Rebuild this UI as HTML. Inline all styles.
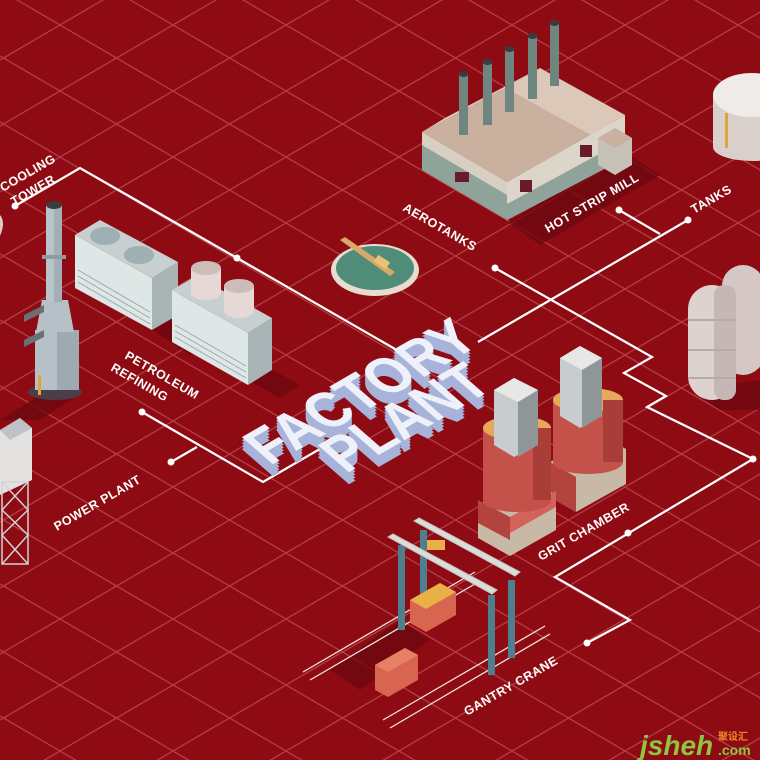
<!DOCTYPE html>
<html><head><meta charset="utf-8"><style>
html,body{margin:0;padding:0;background:#8f0b13;}
svg{display:block}
text{font-family:"Liberation Sans",sans-serif;font-weight:bold;}
</style></head><body>
<svg width="760" height="760" viewBox="0 0 760 760" xmlns="http://www.w3.org/2000/svg">
<defs>
<pattern id="g" patternUnits="userSpaceOnUse" x="60" y="25" width="113" height="66">
<path d="M0,0 L113,66 M0,66 L113,0" stroke="#b23e46" stroke-width="1.3" fill="none"/>
</pattern>
<g id="t1"><text font-size="58" textLength="245" lengthAdjust="spacingAndGlyphs">FACTORY</text></g>
<g id="t2"><text font-size="58" textLength="172" lengthAdjust="spacingAndGlyphs">PLANT</text></g>
</defs>
<rect width="760" height="760" fill="#8f0b13"/>
<rect width="760" height="760" fill="url(#g)"/>

<!-- shadows -->
<g fill="#6d0710" opacity="0.8">
<polygon points="508,222 625,152 660,175 540,245"/>
<polygon points="152,330 178,315 215,340 190,355"/>
<polygon points="248,380 270,368 300,385 280,398"/>
<polygon points="78,395 40,395 0,420 40,420"/>
<polygon points="690,390 760,380 760,410 720,410"/>
<polygon points="400,620 330,670 360,690 430,640"/>
</g>

<!-- connectors -->
<g stroke="#fff" stroke-width="2.2" fill="none" stroke-linejoin="miter">
<polyline points="15,206 80,168 237,258 395,349"/>
<polyline points="142,412 263,482 325,446"/>
<polyline points="171,462 197,447"/>
<polyline points="495,268 652,357 624,373 666,396 647,407 753,459"/>
<polyline points="753,459 555,577 630,620 587,643"/>
<polyline points="619,210 660,234"/>
<polyline points="688,220 478,342"/>
</g>
<g fill="#fff">
<circle cx="15" cy="206" r="3.5"/><circle cx="237" cy="258" r="3.5"/>
<circle cx="142" cy="412" r="3.5"/><circle cx="171" cy="462" r="3.5"/>
<circle cx="495" cy="268" r="3.5"/><circle cx="619" cy="210" r="3.5"/>
<circle cx="688" cy="220" r="3.5"/><circle cx="753" cy="459" r="3.5"/>
<circle cx="628" cy="533" r="3.5"/><circle cx="587" cy="643" r="3.5"/>
</g>

<!-- aerotank -->
<ellipse cx="375" cy="270" rx="44" ry="26" fill="#e7dccf"/>
<ellipse cx="375" cy="268" rx="39" ry="22" fill="#4f8d79"/>
<polygon points="340,240 345,237 395,272 390,276" fill="#d9a868"/>
<rect x="375" y="258" width="14" height="8" fill="#e9c27a" transform="rotate(33 382 262)"/>

<!-- hot strip mill -->
<polygon points="422,132 507,182 507,220 422,170" fill="#8fa39b"/>
<polygon points="422,132 507,182 507,195 422,145" fill="#d8cfc2"/>
<polygon points="507,182 625,115 625,158 507,220" fill="#dcd5ca"/>
<polygon points="507,204 625,140 625,158 507,220" fill="#8fa39b"/>
<polygon points="422,132 507,182 590,135 505,88" fill="#c9b09f"/>
<polygon points="505,88 590,135 625,115 540,68" fill="#dcc8b8"/>
<polygon points="422,132 505,88 540,68 445,118" fill="#e2d3c6"/>
<g fill="#6a1b2a"><rect x="520" y="180" width="12" height="12"/><rect x="580" y="145" width="12" height="12"/><rect x="455" y="172" width="14" height="10"/></g>
<polygon points="598,138 615,128 632,138 632,165 615,175 598,165" fill="#c6c2b8"/>
<polygon points="598,138 615,128 632,138 615,148" fill="#c9b09f"/>
<g fill="#6f8580">
<rect x="459" y="75" width="9" height="60"/><rect x="483" y="63" width="9" height="62"/>
<rect x="505" y="50" width="9" height="62"/><rect x="528" y="37" width="9" height="62"/>
<rect x="550" y="24" width="9" height="62"/>
</g>
<g fill="#3b3b40">
<ellipse cx="463.5" cy="74" rx="5" ry="3"/><ellipse cx="487.5" cy="62" rx="5" ry="3"/>
<ellipse cx="509.5" cy="49" rx="5" ry="3"/><ellipse cx="532.5" cy="36" rx="5" ry="3"/>
<ellipse cx="554.5" cy="23" rx="5" ry="3"/>
</g>

<!-- tank top right -->
<rect x="713" y="95" width="50" height="52" fill="#d9d0cc"/>
<ellipse cx="752" cy="147" rx="39" ry="14" fill="#d9d0cc"/>
<ellipse cx="752" cy="95" rx="39" ry="22" fill="#efebe8"/>
<rect x="725" y="113" width="3" height="35" fill="#e0a43a"/>

<!-- cooling units -->
<polygon points="75,235 152,278 152,330 75,288" fill="#dfe6e6"/>
<polygon points="152,278 178,262 178,315 152,330" fill="#a9b4b6"/>
<polygon points="75,235 100,220 178,262 152,278" fill="#c7cfd0"/>
<g stroke="#9aa7aa" stroke-width="1"><line x1="78" y1="270" x2="150" y2="312"/><line x1="78" y1="276" x2="150" y2="318"/><line x1="78" y1="282" x2="150" y2="324"/></g>
<ellipse cx="105" cy="236" rx="15" ry="9" fill="#9fb0b3"/><ellipse cx="139" cy="255" rx="15" ry="9" fill="#9fb0b3"/>
<polygon points="172,290 248,333 248,385 172,342" fill="#dfe6e6"/>
<polygon points="248,333 272,318 272,370 248,385" fill="#a9b4b6"/>
<polygon points="172,290 196,276 272,318 248,333" fill="#c7cfd0"/>
<g stroke="#9aa7aa" stroke-width="1"><line x1="175" y1="325" x2="246" y2="366"/><line x1="175" y1="331" x2="246" y2="372"/><line x1="175" y1="337" x2="246" y2="378"/></g>
<rect x="191" y="268" width="30" height="25" fill="#e6d8d4"/><ellipse cx="206" cy="293" rx="15" ry="7" fill="#e6d8d4"/><ellipse cx="206" cy="268" rx="15" ry="7" fill="#cdbdb9"/>
<rect x="224" y="286" width="30" height="25" fill="#e6d8d4"/><ellipse cx="239" cy="311" rx="15" ry="7" fill="#e6d8d4"/><ellipse cx="239" cy="286" rx="15" ry="7" fill="#cdbdb9"/>

<!-- chimney -->
<ellipse cx="55" cy="392" rx="27" ry="8" fill="#4a3f48"/>
<rect x="35" y="330" width="44" height="60" fill="#b6c1c7"/>
<rect x="57" y="330" width="22" height="60" fill="#9eaab1"/>
<polygon points="42,300 68,300 74,332 36,332" fill="#b6c1c7"/>
<rect x="46" y="205" width="16" height="97" fill="#b9c4ca"/>
<rect x="54" y="205" width="8" height="97" fill="#a2afb6"/>
<ellipse cx="54" cy="205" rx="8" ry="4" fill="#3b3b40"/>
<rect x="42" y="255" width="24" height="4" fill="#8f9ba2"/>
<polygon points="24,315 44,305 44,312 24,322" fill="#6b6f78"/>
<polygon points="24,340 44,330 44,337 24,347" fill="#6b6f78"/>
<rect x="38" y="375" width="3" height="20" fill="#e0a43a"/>

<!-- cooling tower partial -->
<path d="M0,215 Q6,222 0,236 Z" fill="#d9cfc7"/>

<!-- power plant partial -->
<polygon points="0,430 20,418 32,428 32,480 0,495" fill="#e3e2e0"/>
<polygon points="0,430 20,418 32,428 10,440" fill="#bfc2c4"/>
<g stroke="#cfd3d6" stroke-width="1.5" fill="none">
<rect x="2" y="482" width="26" height="82"/>
<path d="M2,482 L28,510 L2,535 L28,564 M28,482 L2,510 L28,535 L2,564"/>
</g>

<!-- gas tanks right -->
<rect x="722" y="265" width="42" height="110" rx="21" fill="#d5c8c4"/>
<rect x="688" y="285" width="48" height="115" rx="24" fill="#ddd2ce"/>
<rect x="714" y="285" width="22" height="115" rx="10" fill="#c5b8b4"/>
<g stroke="#b8aaa6" stroke-width="2"><line x1="688" y1="320" x2="736" y2="320"/><line x1="688" y1="350" x2="736" y2="350"/><line x1="688" y1="378" x2="736" y2="378"/></g>

<!-- grit chamber -->
<polygon points="550,462 600,434 626,449 626,484 576,512 550,497" fill="#c7b9a6"/>
<polygon points="550,462 576,477 576,512 550,497" fill="#b3443d"/>
<rect x="553" y="400" width="70" height="62" fill="#c4514a"/>
<ellipse cx="588" cy="462" rx="35" ry="12" fill="#c4514a"/>
<ellipse cx="588" cy="400" rx="35" ry="12" fill="#e6a85a"/>
<rect x="603" y="400" width="20" height="62" fill="#a93d37"/>
<polygon points="560,358 580,346 602,358 602,416 580,428 560,416" fill="#c8ccce"/>
<polygon points="560,358 580,346 602,358 582,370" fill="#e7e7e5"/>
<polygon points="582,370 602,358 602,416 582,428" fill="#8e9698"/>

<polygon points="478,505 526,478 556,495 556,530 510,556 478,538" fill="#c7b9a6"/>
<polygon points="478,500 510,517 510,540 478,523" fill="#b3443d"/>
<polygon points="510,517 556,491 556,507 510,533" fill="#d2625a"/>
<rect x="483" y="428" width="68" height="72" fill="#c4514a"/>
<ellipse cx="517" cy="500" rx="34" ry="12" fill="#c4514a"/>
<ellipse cx="517" cy="428" rx="34" ry="12" fill="#e6a85a"/>
<rect x="533" y="428" width="18" height="72" fill="#a93d37"/>
<polygon points="494,390 514,378 538,390 538,445 514,457 494,445" fill="#c8ccce"/>
<polygon points="494,390 514,378 538,390 518,402" fill="#e7e7e5"/>
<polygon points="518,402 538,390 538,445 518,457" fill="#8e9698"/>

<!-- gantry crane -->
<g stroke="#f0e6e0" stroke-width="1.3"><line x1="303" y1="672" x2="475" y2="572"/><line x1="310" y1="680" x2="480" y2="581"/><line x1="383" y1="720" x2="545" y2="626"/><line x1="390" y1="728" x2="550" y2="634"/></g>
<polygon points="375,665 405,648 418,655 418,680 388,697 375,690" fill="#d7654f"/>
<polygon points="375,665 405,648 418,655 388,672" fill="#e88066"/>
<g fill="#4d7f8e">
<rect x="398" y="545" width="7" height="85"/><rect x="420" y="530" width="7" height="85"/>
<rect x="488" y="595" width="7" height="80"/><rect x="508" y="580" width="7" height="78"/>
</g>
<polygon points="410,600 440,583 456,592 456,615 426,632 410,623" fill="#d7654f"/>
<polygon points="410,600 440,583 456,592 426,609" fill="#e8b045"/>
<polygon points="388,537 393,534 497,590 492,594" fill="#dcdcd8" stroke="#c0c4c4"/>
<polygon points="414,521 419,518 520,572 515,576" fill="#dcdcd8" stroke="#c0c4c4"/>
<rect x="427" y="540" width="18" height="10" fill="#e8b045"/>

<!-- labels -->
<g fill="#fff" font-size="12.5" letter-spacing="0.5">
<text transform="translate(3,192) rotate(-30)">COOLING</text>
<text transform="translate(14,206) rotate(-30)">TOWER</text>
<text transform="translate(548,233) rotate(-30)">HOT STRIP MILL</text>
<text transform="translate(694,214) rotate(-30)">TANKS</text>
<text transform="translate(402,210) rotate(30)">AEROTANKS</text>
<text transform="translate(124,358) rotate(30)">PETROLEUM</text>
<text transform="translate(110,370) rotate(30)">REFINING</text>
<text transform="translate(57,531) rotate(-30)">POWER PLANT</text>
<text transform="translate(541,561) rotate(-30)">GRIT CHAMBER</text>
<text transform="translate(467,716) rotate(-30)">GANTRY CRANE</text>
</g>

<!-- title FACTORY PLANT -->
<g fill="#a7b3d8">
<use href="#t1" transform="translate(270,478) matrix(0.866,-0.5,0.78,0.68,0,0)"/>
<use href="#t1" transform="translate(270,475) matrix(0.866,-0.5,0.78,0.68,0,0)"/>
<use href="#t1" transform="translate(270,472) matrix(0.866,-0.5,0.78,0.68,0,0)"/>
<use href="#t1" transform="translate(270,469) matrix(0.866,-0.5,0.78,0.68,0,0)"/>
<use href="#t2" transform="translate(346,486) matrix(0.866,-0.5,0.78,0.68,0,0)"/>
<use href="#t2" transform="translate(346,483) matrix(0.866,-0.5,0.78,0.68,0,0)"/>
<use href="#t2" transform="translate(346,480) matrix(0.866,-0.5,0.78,0.68,0,0)"/>
<use href="#t2" transform="translate(346,477) matrix(0.866,-0.5,0.78,0.68,0,0)"/>
</g>
<g fill="#eef0fa">
<use href="#t1" transform="translate(270,466) matrix(0.866,-0.5,0.78,0.68,0,0)"/>
<use href="#t2" transform="translate(346,474) matrix(0.866,-0.5,0.78,0.68,0,0)"/>
</g>

<!-- watermark -->
<text x="640" y="755" font-size="28" fill="#8dc63f" font-style="italic">jsheh</text>
<text x="718" y="755" font-size="14" fill="#8dc63f">.com</text>
<text x="718" y="740" font-size="10" fill="#f08a2a" style="font-family:'Liberation Sans','Noto Sans CJK SC',sans-serif">聚设汇</text>
</svg>
</body></html>
